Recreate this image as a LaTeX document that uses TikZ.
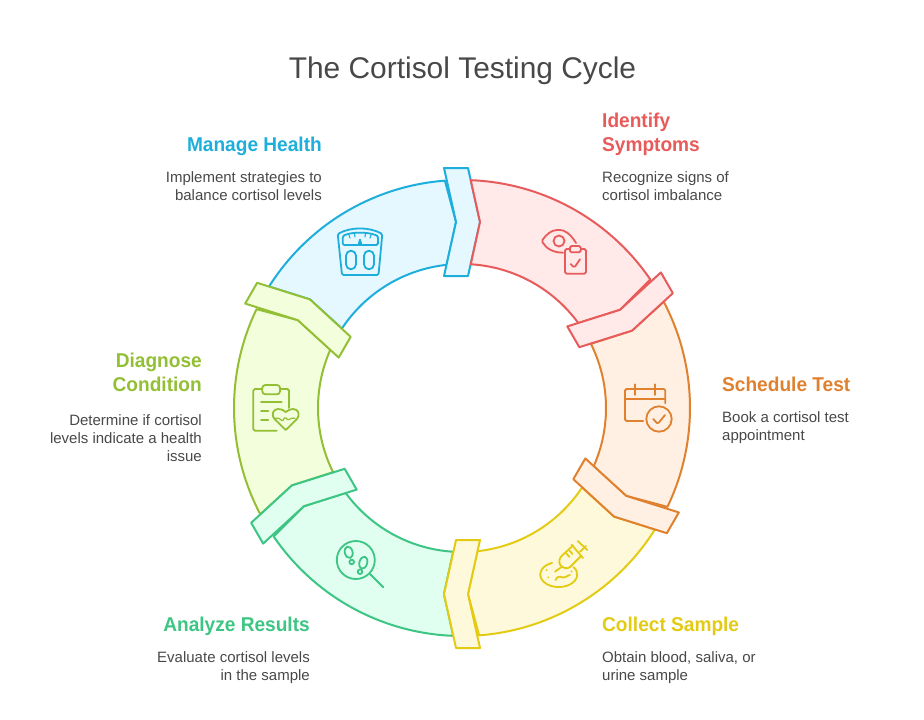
\documentclass[tikz,border=0pt]{standalone}
\usepackage{fontspec}
\setmainfont{Liberation Sans}
\newfontfamily\headfont[FakeStretch=0.955]{Liberation Sans Bold}
\definecolor{lnB}{HTML}{1EAEDB}\definecolor{flB}{HTML}{E5F8FF}
\definecolor{lnR}{HTML}{E85B5B}\definecolor{flR}{HTML}{FFE9E9}
\definecolor{lnO}{HTML}{E0812F}\definecolor{flO}{HTML}{FFF0E3}
\definecolor{lnY}{HTML}{E3CB14}\definecolor{flY}{HTML}{FFF9DB}
\definecolor{lnG}{HTML}{3CC583}\definecolor{flG}{HTML}{E0FFF0}
\definecolor{lnL}{HTML}{93BF35}\definecolor{flL}{HTML}{F3FEDC}
\definecolor{txt}{HTML}{484848}
\tikzset{
  x=1pt,y=1pt,
  unitline/.style={line width=2pt,line join=round},
  icon/.style={line width=1.8pt,line cap=round,line join=round,rounded corners=1.5pt},
  head/.style={inner sep=0pt,font=\fontsize{20}{24}\selectfont\headfont},
  body/.style={inner sep=0pt,text=txt,font=\fontsize{15}{18}\selectfont},
}
\newcommand{\cycleunit}[3]{%
  \begin{scope}[shift={(462,-408)},rotate=#1]
    \path[fill=#3,draw=#2,unitline]
      (147.8:228) arc[start angle=147.8,end angle=94.3,radius=228]
      -- (-6,186) -- (96.1:144)
      arc[start angle=96.1,end angle=146.5,radius=144]
      -- (144.47:186.87) -- cycle;
    \path[fill=#3,draw=#2,unitline]
      (-18,240) -- (6,240) -- (18,186) -- (6,132) -- (-18,132) -- (-6,186) -- cycle;
  \end{scope}}
\begin{document}
\begin{tikzpicture}
\useasboundingbox (0,-720) rectangle (924,0);
\cycleunit{0}{lnB}{flB}
\cycleunit{-300}{lnL}{flL}
\cycleunit{-240}{lnG}{flG}
\cycleunit{-180}{lnY}{flY}
\cycleunit{-120}{lnO}{flO}
\cycleunit{-60}{lnR}{flR}
\begin{scope}[yscale=-1]
% title
\node[inner sep=0pt,anchor=base,text=txt,font=\fontsize{29.9}{36}\selectfont] (title) at (462.5,78) {The Cortisol Testing Cycle};
% texts
\node[head,text=lnR,anchor=north west,align=left] (h1) at (602,110.2) {\strut Identify\\Symptoms};
\node[body,anchor=north west,align=left] (b1) at (602,169.4) {\strut Recognize signs of\\cortisol imbalance};
\node[head,text=lnO,anchor=north west,align=left] (h2) at (722,374.2) {\strut Schedule Test};
\node[body,anchor=north west,align=left] (b2) at (722,409.4) {\strut Book a cortisol test\\appointment};
\node[head,text=lnY,anchor=north west,align=left] (h3) at (602,614.2) {\strut Collect Sample};
\node[body,anchor=north west,align=left] (b3) at (602,649.4) {\strut Obtain blood, saliva, or\\urine sample};
\node[head,text=lnG,anchor=north east,align=right] (h4) at (310,614.2) {\strut Analyze Results};
\node[body,anchor=north east,align=right] (b4) at (310,649.4) {\strut Evaluate cortisol levels\\in the sample};
\node[head,text=lnL,anchor=north east,align=right] (h5) at (202,350.2) {\strut Diagnose\\Condition};
\node[body,anchor=north east,align=right] (b5) at (202,412.4) {\strut Determine if cortisol\\levels indicate a health\\issue};
\node[head,text=lnB,anchor=north east,align=right] (h6) at (322,134.2) {\strut Manage Health};
\node[body,anchor=north east,align=right] (b6) at (322,169.4) {\strut Implement strategies to\\balance cortisol levels};
% eye + clipboard
\begin{scope}[icon,draw=lnR]
\draw (576,243) .. controls (570,233) and (564,230) .. (558.5,230) .. controls (551,230) and (546,235) .. (541.7,241) .. controls (546,248) and (552,252.5) .. (563,252.7);
\draw (559,241) circle[radius=5.5];
\draw (570,249) -- (565,249) -- (565,273.7) -- (586,273.7) -- (586,249) -- (580.7,249);
\draw[fill=flR] (570,246) rectangle (580.7,252.3);
\draw (570.7,264) -- (574.3,267.7) -- (580,259.3);
\end{scope}
% calendar
\begin{scope}[icon,draw=lnO]
\draw (643.3,421) -- (625,421) -- (625,389) -- (665.3,389) -- (665.3,403.3);
\draw (625,399) -- (665.3,399);
\draw (635,384.3) -- (635,395);
\draw (655.3,384.3) -- (655.3,395);
\draw (659,419) circle[radius=12.7];
\draw (653.3,419) -- (657.7,424) -- (665,415);
\end{scope}
% syringe and dish
\begin{scope}[icon,draw=lnY]
\draw (573.5,567) arc[start angle=-37,end angle=249,x radius=18.5,y radius=12.5];
\draw (555.5,580) .. controls (558,574) and (562,578) .. (565,577) .. controls (567,576.5) and (568,575) .. (570,575);
\fill[lnY] (546.7,570) circle[radius=1] (548.3,577.3) circle[radius=1] (571.5,571.5) circle[radius=1];
\draw (555,571.7) -- (562,566.7);
\draw (573,545.5) -- (561.5,556) .. controls (558.5,560) and (559,565) .. (563,567) .. controls (566,569) and (569,568) .. (571,566) -- (581,556);
\draw (571.5,544.5) -- (583,558);
\draw (580,551.7) -- (586,546);
\draw (577.7,541) -- (587.3,550);
\draw (566,553) -- (569.5,557);
\draw (569,550) -- (572.5,554);
\end{scope}
% magnifier
\begin{scope}[icon,draw=lnG]
\draw (355.8,560) circle[radius=19];
\draw (370,574) -- (383.3,587.3);
\draw[rotate around={-15:(348.7,552.3)}] (348.7,552.3) ellipse[x radius=3.9,y radius=5.8];
\draw (351.7,562) circle[radius=2.3];
\draw[rotate around={15:(363.3,562.7)}] (363.3,562.7) ellipse[x radius=3.9,y radius=6.2];
\draw (360,571.7) circle[radius=2.3];
\end{scope}
% clipboard + heart
\begin{scope}[icon,draw=lnL]
\draw (276.7,430.7) -- (253.3,430.7) -- (253.3,389) -- (289,389) -- (289,408);
\draw[fill=flL,rounded corners=3pt] (262.3,385) rectangle (280,394.3);
\draw (261,401.7) -- (281.7,401.7);
\draw (261,410.7) -- (268.3,410.7);
\draw (261,420) -- (268.3,420);
\draw[fill=flL,rounded corners=0pt] (285.7,430) -- (275,419.5) .. controls (270,414) and (274,409) .. (278,409) .. controls (281,409) and (284,410) .. (285.7,412) .. controls (288,410) and (291,409) .. (293,409) .. controls (298,409) and (301,414) .. (296.5,419.5) -- cycle;
\draw[line width=1.2pt] (275,418.3) -- (280,418.3) -- (282.3,421.7) -- (285,416.7) -- (288.3,420.7) -- (290,418.3) -- (295,418.3);
\end{scope}
% scale
\begin{scope}[icon,draw=lnB]
\draw (342,275) -- (378.5,275) -- (382.3,234) .. controls (375,230) and (367,228.5) .. (360,228.5) .. controls (353,228.5) and (345,230) .. (337.7,234) -- cycle;
\draw (342.7,236) .. controls (348,233.5) and (354,232.7) .. (360,232.7) .. controls (366,232.7) and (372,233.5) .. (378,236) -- (378,245) -- (342.7,245) -- cycle;
\draw[line width=1.1pt] (349,235) -- (350,238);
\draw[line width=1.1pt] (354.5,233.5) -- (355,237);
\draw[line width=1.1pt] (365.5,233.5) -- (365,237);
\draw[line width=1.1pt] (371,235) -- (370,238);
\draw[fill=lnB,line width=.8pt] (358,245) -- (360,238) -- (362,245) -- cycle;
\draw[rounded corners=5pt] (346,250.7) rectangle (356,269.3);
\draw[rounded corners=5pt] (364,250.7) rectangle (374,269.3);
\end{scope}
\end{scope}
\end{tikzpicture}
\end{document}
